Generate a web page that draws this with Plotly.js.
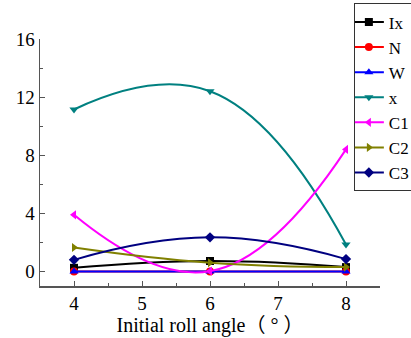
<!DOCTYPE html>
<html>
<head>
<meta charset="utf-8">
<script src="https://cdn.plot.ly/plotly-3.0.1.min.js"></script>
<style>html,body{margin:0;padding:0;background:#fff;}#chart{width:411px;height:338px;}</style>
</head>
<body>
<div id="chart"></div>
<script>
const angles = [4, 6, 8];
const seriesNames = ["Ix", "N", "W", "x", "C1", "C2", "C3"];
const Ix = [0.25, 0.72, 0.3];
const N  = [0, 0, 0];
const W  = [0, 0, 0];
const X  = [11.15, 12.4, 1.85];
const C1 = [3.9, 0.02, 8.4];
const C2 = [1.65, 0.6, 0.3];
const C3 = [0.8, 2.35, 0.85];
const seriesValues = [Ix, N, W, X, C1, C2, C3];
const colors = ["#000000", "#FF0000", "#0000FF", "#008080", "#FF00FF", "#808000", "#000080"];
const symbols = ["square", "circle", "triangle-up", "triangle-down", "triangle-left", "triangle-right", "diamond"];
const yTicks = [0, 4, 8, 12, 16];
const xTicks = [4, 5, 6, 7, 8];

const traces = seriesNames.map((name, i) => ({
  type: "scatter",
  mode: "lines+markers",
  name: name,
  x: angles,
  y: seriesValues[i],
  line: {color: colors[i], width: 2, shape: "spline", smoothing: 1.3},
  marker: {color: colors[i], symbol: symbols[i], size: 8}
}));

const serif = "'Liberation Serif', 'Noto Sans CJK SC', serif";
const axisColor = "#555555";

const layout = {
  width: 411,
  height: 338,
  margin: {l: 40, r: 31, t: 39, b: 52, autoexpand: false},
  paper_bgcolor: "#ffffff",
  plot_bgcolor: "#ffffff",
  showlegend: true,
  font: {family: serif, size: 17, color: "#000"},
  xaxis: {
    range: [3.5, 8.5],
    tickvals: xTicks,
    ticktext: xTicks.map(String),
    ticks: "inside",
    ticklen: 5,
    tickwidth: 1,
    tickcolor: axisColor,
    showline: true,
    linecolor: axisColor,
    linewidth: 1.5,
    showgrid: false,
    zeroline: false,
    automargin: false,
    tickfont: {family: serif, size: 19, color: "#000"},
    minor: {dtick: 0.5, tick0: 3.5, ticks: "inside", ticklen: 3, tickcolor: axisColor, showgrid: false},
    title: {text: "Initial roll angle（ ° ）", font: {family: serif, size: 20, color: "#000"}, standoff: 4}
  },
  yaxis: {
    range: [-1, 16],
    tickvals: yTicks,
    ticktext: yTicks.map(String),
    ticks: "inside",
    ticklen: 5,
    tickwidth: 1,
    tickcolor: axisColor,
    showline: true,
    linecolor: axisColor,
    linewidth: 1.5,
    showgrid: false,
    zeroline: false,
    automargin: false,
    tickfont: {family: serif, size: 19, color: "#000"},
    minor: {dtick: 2, tick0: 0, ticks: "inside", ticklen: 3, tickcolor: axisColor, showgrid: false}
  },
  legend: {
    xref: "container",
    yref: "container",
    x: 0.861,
    y: 0.99,
    xanchor: "left",
    yanchor: "top",
    maxheight: 260,
    bgcolor: "#ffffff",
    bordercolor: "#333333",
    borderwidth: 1,
    font: {family: serif, size: 17, color: "#000"},
    itemwidth: 30,
    indentation: -6,
    tracegroupgap: 0
  }
};

Plotly.newPlot("chart", traces, layout, {displayModeBar: false, staticPlot: true});
</script>
</body>
</html>
